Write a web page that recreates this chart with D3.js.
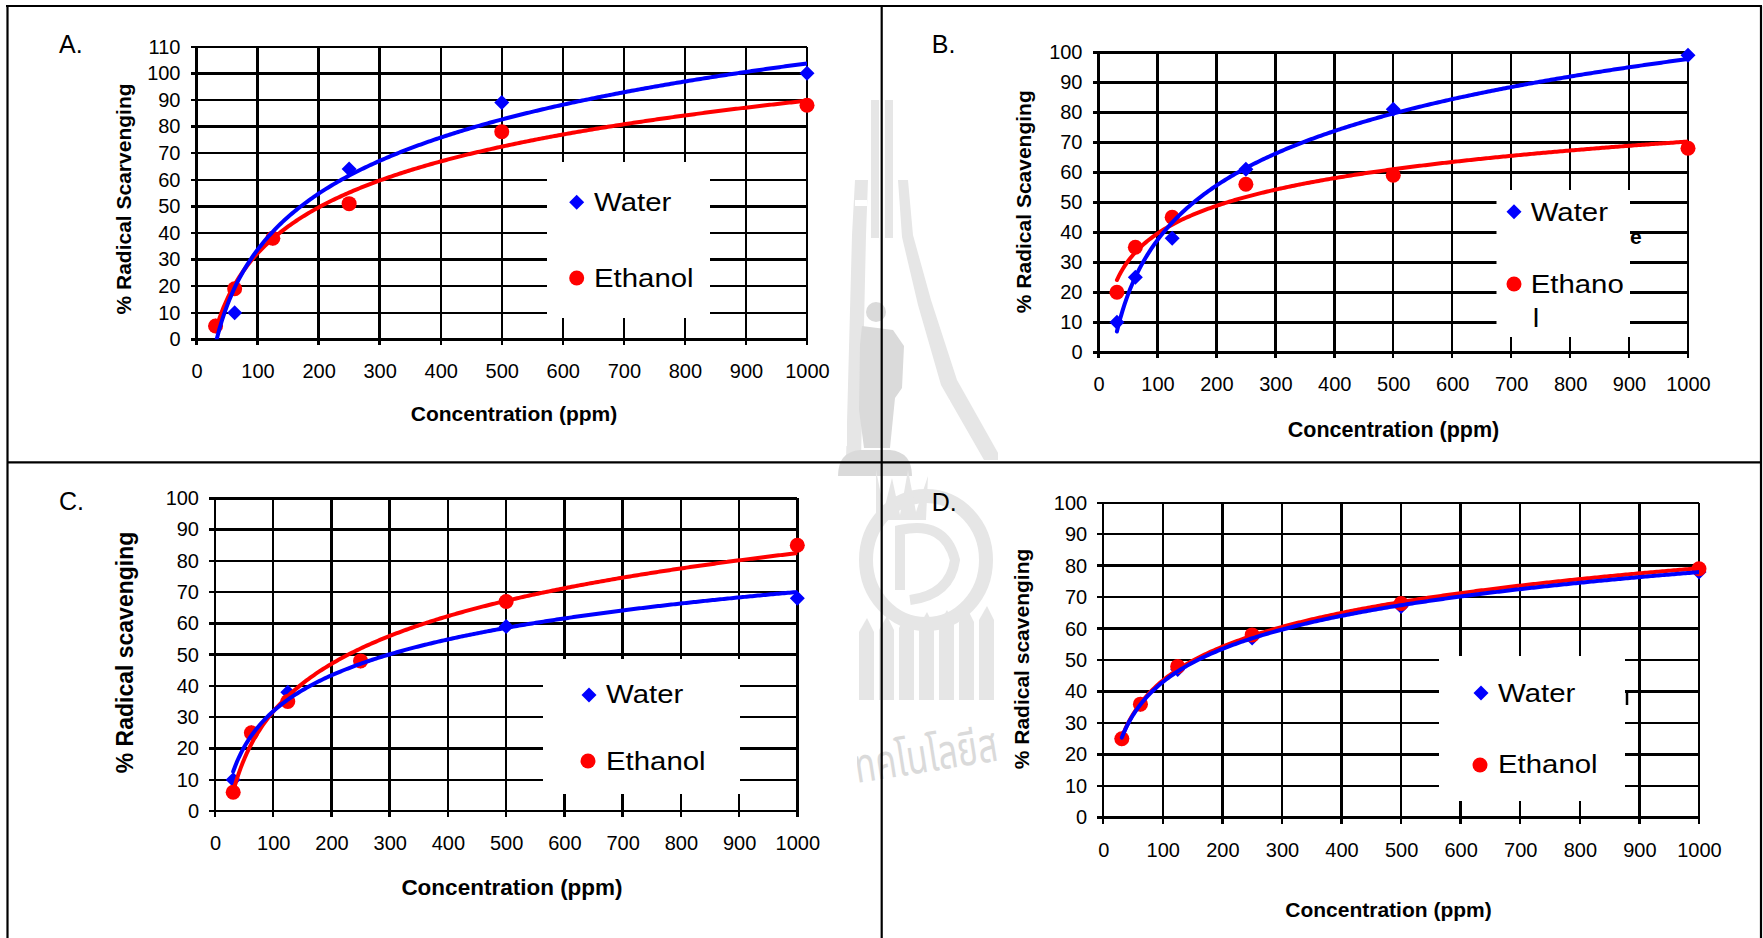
<!DOCTYPE html>
<html>
<head>
<meta charset="utf-8">
<script src="https://cdn.jsdelivr.net/npm/d3@7"></script>
<style>
  html, body { margin: 0; padding: 0; background: #ffffff; }
  svg { display: block; }
</style>
</head>
<body>
<svg id="fig" width="1763" height="938"></svg>
<script>
// ---- data -------------------------------------------------------------
const concentrations = [31.25, 62.5, 125, 250, 500, 1000];   // ppm
const seriesNames = ["Water", "Ethanol"];
const xTickValues = [0, 100, 200, 300, 400, 500, 600, 700, 800, 900, 1000];
const yTicksA = [0, 10, 20, 30, 40, 50, 60, 70, 80, 90, 100, 110];
const yTicksBCD = [0, 10, 20, 30, 40, 50, 60, 70, 80, 90, 100];

const waterA   = [5, 10, 38, 64, 89, 100];
const ethanolA = [5, 19, 38, 51, 78, 88];
const waterB   = [10, 25, 38, 61, 81, 99];
const ethanolB = [20, 35, 45, 56, 59, 68];
const waterC   = [10, 25, 38, 48, 59, 68];
const ethanolC = [6, 25, 35, 48, 67, 85];
const waterD   = [25, 36, 47, 57, 67, 78];
const ethanolD = [25, 36, 48, 58, 68, 79];

const panelLetters = ["A.", "B.", "C.", "D."];
const yTitles = ["% Radical Scarvenging", "% Radical Scavenging",
                 "% Radical scavenging", "% Radical scavenging"];
const xTitle = "Concentration (ppm)";

// ---- layout -----------------------------------------------------------
const FONT = "'Liberation Sans', Arial, Helvetica, sans-serif";
const BLUE = "#0000ff", RED = "#ff0000";

const panels = [
  { letter: panelLetters[0], water: waterA, ethanol: ethanolA, yTicks: yTicksA, yMax: 110,
    x0: 196.5, x1: 807, yBottom: 339.3, yTop: 46.7,
    letterPos: [59, 53], yTitle: yTitles[0], yTitlePos: [124, 199], yTitleSize: 21,
    xTitlePos: [514, 421], xTitleSize: 21,
    legend: { box: [547, 162, 710, 318], mark1: [576.7, 202.3], text1: [594, 211],
              mark2: [576.7, 278], text2: [594, 287] } },
  { letter: panelLetters[1], water: waterB, ethanol: ethanolB, yTicks: yTicksBCD, yMax: 100,
    x0: 1098.5, x1: 1688, yBottom: 352.3, yTop: 52.3,
    letterPos: [931.8, 53], yTitle: yTitles[1], yTitlePos: [1024, 201.7], yTitleSize: 21,
    xTitlePos: [1393.5, 437], xTitleSize: 21.5,
    legend: { box: [1496.5, 190, 1630, 337], mark1: [1514, 211.7], text1: [1530.7, 221],
              mark2: [1514, 284], text2: [1530.7, 293], wrap: 6, wrapDy: 34,
              stray: { text: "e", pos: [1630, 244] } } },
  { letter: panelLetters[2], water: waterC, ethanol: ethanolC, yTicks: yTicksBCD, yMax: 100,
    x0: 215, x1: 797.3, yBottom: 811, yTop: 498.3,
    letterPos: [59, 510], yTitle: yTitles[2], yTitlePos: [124.6, 652.5], yTitleSize: 23,
    xTitlePos: [512, 895], xTitleSize: 22.5,
    legend: { box: [543, 659, 740, 794], mark1: [589, 695], text1: [606, 703],
              mark2: [588, 761], text2: [606, 770] } },
  { letter: panelLetters[3], water: waterD, ethanol: ethanolD, yTicks: yTicksBCD, yMax: 100,
    x0: 1103.2, x1: 1699, yBottom: 817.5, yTop: 502.7,
    letterPos: [931.7, 510.5], yTitle: yTitles[3], yTitlePos: [1021.5, 659], yTitleSize: 21,
    xTitlePos: [1388.5, 917], xTitleSize: 21,
    legend: { box: [1439, 656, 1625, 801], mark1: [1481, 693], text1: [1498, 702],
              mark2: [1480, 765], text2: [1498, 773], strayBar: [1627, 692, 1627, 705] } }
];

const svg = d3.select("#fig");

// ---- faint university emblem behind the figure ------------------------
const wm = svg.append("g").attr("class", "emblem");
const light = "#e6e6e6", mid = "#dadada";
// spire rails
wm.append("rect").attr("x", 871).attr("y", 100).attr("width", 8).attr("height", 138).attr("fill", light);
wm.append("rect").attr("x", 885).attr("y", 100).attr("width", 8).attr("height", 138).attr("fill", light);
// outer curved rails
wm.append("path").attr("fill", light)
  .attr("d", "M855,180 L868,180 L866,235 L861,460 L846,460 L852,235 Z");
wm.append("path").attr("fill", light)
  .attr("d", "M898,180 L908,180 L913,235 L931,300 L957,380 L1002,460 L984,460 L941,385 L918,305 L902,237 Z");
// ladder rungs (white gaps)
[[900, 330, 16, 8], [930, 400, 20, 8], [855, 200, 12, 6]].forEach(r =>
  wm.append("rect").attr("x", r[0]).attr("y", r[1]).attr("width", r[2]).attr("height", r[3]).attr("fill", "#ffffff"));
// standing figure
wm.append("circle").attr("cx", 876).attr("cy", 312).attr("r", 10).attr("fill", mid);
wm.append("path").attr("fill", mid)
  .attr("d", "M862,326 L893,330 L904,346 L902,388 L895,398 L890,448 L864,448 L859,410 L860,345 Z");
// pedestal
wm.append("path").attr("fill", mid)
  .attr("d", "M838,476 Q838,452 860,450 L890,450 Q912,452 912,476 Z");
// lower emblem: ring, inner shape and fence
wm.append("ellipse").attr("cx", 926).attr("cy", 560).attr("rx", 60).attr("ry", 64)
  .attr("fill", "none").attr("stroke", light).attr("stroke-width", 14);
wm.append("path").attr("fill", "none").attr("stroke", light).attr("stroke-width", 10)
  .attr("d", "M900,590 L900,530 Q945,520 955,560 Q950,595 910,600");
wm.append("path").attr("fill", light)
  .attr("d", "M876,470 L884,510 L892,478 L900,515 L908,470 L916,512 L928,476 L926,520 L876,520 Z");
d3.range(7).forEach(i => {
  const bx = 859 + i * 20;
  wm.append("path").attr("fill", light)
    .attr("d", `M${bx},${632 - i * 2} L${bx + 8},${618 - i * 2} L${bx + 15},${632 - i * 2} L${bx + 15},700 L${bx},700 Z`);
});
wm.append("text")
  .attr("transform", "translate(857,783) rotate(-9) scale(0.72,1)")
  .attr("font-family", "'Noto Sans Thai', 'Noto Sans', 'DejaVu Sans', sans-serif")
  .attr("font-size", 48).attr("fill", mid).text("ทคโนโลยีส");

// white chart backgrounds (each chart object is opaque)
[[8, 7, 839, 439], [8, 478, 849, 460], [998, 7, 763, 454], [1000, 463, 761, 475]].forEach(r =>
  svg.append("rect").attr("x", r[0]).attr("y", r[1]).attr("width", r[2]).attr("height", r[3]).attr("fill", "#ffffff"));

// ---- helpers ----------------------------------------------------------
function logFit(xs, ys) {
  const lx = xs.map(Math.log);
  const mx = d3.mean(lx), my = d3.mean(ys);
  let sxy = 0, sxx = 0;
  lx.forEach((v, i) => { sxy += (v - mx) * (ys[i] - my); sxx += (v - mx) * (v - mx); });
  const a = sxy / sxx, b = my - a * mx;
  return x => a * Math.log(x) + b;
}

function diamondPath(r) {
  return `M0,${-r} L${r},0 L0,${r} L${-r},0 Z`;
}

function stretchedText(g, x, y, str, size, sx, opts = {}) {
  return g.append("text")
    .attr("transform", `translate(${x},${y}) scale(${sx},1)`)
    .attr("font-family", FONT).attr("font-size", size)
    .attr("font-weight", opts.bold ? "bold" : "normal")
    .attr("fill", "#000").text(str);
}

// ---- panels -----------------------------------------------------------
panels.forEach((p, pi) => {
  const g = svg.append("g").attr("class", "panel panel-" + pi);
  const x = d3.scaleLinear().domain([0, 1000]).range([p.x0, p.x1]);
  const y = d3.scaleLinear().domain([0, p.yMax]).range([p.yBottom, p.yTop]);

  // panel letter
  g.append("text").attr("x", p.letterPos[0]).attr("y", p.letterPos[1])
    .attr("font-family", FONT).attr("font-size", 25).text(p.letter);

  // grid
  const grid = g.append("g").attr("stroke", "#000").attr("stroke-width", 2.4).attr("shape-rendering", "crispEdges");
  grid.selectAll("line.h").data(p.yTicks).join("line")
    .attr("x1", x(0) - 6).attr("x2", x(1000)).attr("y1", d => y(d)).attr("y2", d => y(d));
  grid.selectAll("line.v").data(xTickValues).join("line")
    .attr("x1", d => x(d)).attr("x2", d => x(d)).attr("y1", y(p.yMax)).attr("y2", y(0) + 6);

  // tick labels via d3 axes (the grid draws the lines)
  const yAxis = g.append("g").attr("transform", `translate(${x(0)},0)`)
    .call(d3.axisLeft(y).tickValues(p.yTicks).tickFormat(d3.format("d")).tickSize(0).tickPadding(16));
  const xAxis = g.append("g").attr("transform", `translate(0,${y(0)})`)
    .call(d3.axisBottom(x).tickValues(xTickValues).tickFormat(d3.format("d")).tickSize(0).tickPadding(25));
  [yAxis, xAxis].forEach(ax => {
    ax.select(".domain").remove();
    ax.selectAll("text").attr("font-family", FONT).attr("font-size", 20).attr("fill", "#000");
  });

  // titles
  g.append("text")
    .attr("transform", `translate(${p.yTitlePos[0]},${p.yTitlePos[1]}) rotate(-90)`)
    .attr("text-anchor", "middle").attr("dy", "0.35em")
    .attr("font-family", FONT).attr("font-weight", "bold").attr("font-size", p.yTitleSize)
    .text(p.yTitle);
  g.append("text").attr("x", p.xTitlePos[0]).attr("y", p.xTitlePos[1])
    .attr("text-anchor", "middle")
    .attr("font-family", FONT).attr("font-weight", "bold").attr("font-size", p.xTitleSize)
    .text(xTitle);

  // data markers
  const clipId = "clip" + pi;
  g.append("clipPath").attr("id", clipId).append("rect")
    .attr("x", x(0)).attr("y", y(p.yMax)).attr("width", x(1000) - x(0)).attr("height", y(0) - y(p.yMax));

  const waterPts = concentrations.map((c, i) => [c, p.water[i]]);
  const ethanolPts = concentrations.map((c, i) => [c, p.ethanol[i]]);

  g.append("g").selectAll("path").data(waterPts).join("path")
    .attr("transform", d => `translate(${x(d[0])},${y(d[1])})`)
    .attr("d", diamondPath(7.5)).attr("fill", BLUE);
  g.append("g").selectAll("circle").data(ethanolPts).join("circle")
    .attr("cx", d => x(d[0])).attr("cy", d => y(d[1])).attr("r", 7.5).attr("fill", RED);

  // logarithmic trendlines over the measured range
  const xmin = d3.min(concentrations), xmax = d3.max(concentrations);
  const samples = d3.range(0, 301).map(i => xmin + (xmax - xmin) * i / 300);
  const line = d3.line().x(d => x(d[0])).y(d => y(d[1]));
  [[p.ethanol, RED], [p.water, BLUE]].forEach(([vals, col]) => {
    const f = logFit(concentrations, vals);
    g.append("path").attr("clip-path", `url(#${clipId})`)
      .datum(samples.map(c => [c, f(c)]))
      .attr("d", line).attr("fill", "none").attr("stroke", col)
      .attr("stroke-width", 4).attr("stroke-linecap", "round");
  });

  // legend
  const L = p.legend;
  const lg = g.append("g").attr("class", "legend");
  lg.append("rect").attr("x", L.box[0]).attr("y", L.box[1])
    .attr("width", L.box[2] - L.box[0]).attr("height", L.box[3] - L.box[1]).attr("fill", "#fff");
  lg.append("path").attr("transform", `translate(${L.mark1[0]},${L.mark1[1]})`)
    .attr("d", diamondPath(7.5)).attr("fill", BLUE);
  lg.append("circle").attr("cx", L.mark2[0]).attr("cy", L.mark2[1]).attr("r", 7.5).attr("fill", RED);
  stretchedText(lg, L.text1[0], L.text1[1], seriesNames[0], 26, 1.13);
  if (L.wrap) {
    const nm = seriesNames[1];
    stretchedText(lg, L.text2[0], L.text2[1], nm.slice(0, L.wrap), 26, 1.13);
    stretchedText(lg, L.text2[0] + 2, L.text2[1] + L.wrapDy, nm.slice(L.wrap), 26, 1.13);
  } else {
    stretchedText(lg, L.text2[0], L.text2[1], seriesNames[1], 26, 1.13);
  }
  if (L.stray) {
    g.append("text").attr("x", L.stray.pos[0]).attr("y", L.stray.pos[1])
      .attr("font-family", FONT).attr("font-weight", "bold").attr("font-size", 21).text(L.stray.text);
  }
  if (L.strayBar) {
    g.append("line").attr("x1", L.strayBar[0]).attr("y1", L.strayBar[1])
      .attr("x2", L.strayBar[2]).attr("y2", L.strayBar[3]).attr("stroke", "#000").attr("stroke-width", 2.5);
  }
});

// ---- table frame ------------------------------------------------------
const frame = svg.append("g").attr("stroke", "#000").attr("stroke-width", 2.2);
[[6, 6, 1762, 6], [7.5, 6, 7.5, 938], [1761, 6, 1761, 938],
 [881.7, 6, 881.7, 938], [7.5, 462.3, 1761, 462.3]].forEach(l =>
  frame.append("line").attr("x1", l[0]).attr("y1", l[1]).attr("x2", l[2]).attr("y2", l[3]));
</script>
</body>
</html>
